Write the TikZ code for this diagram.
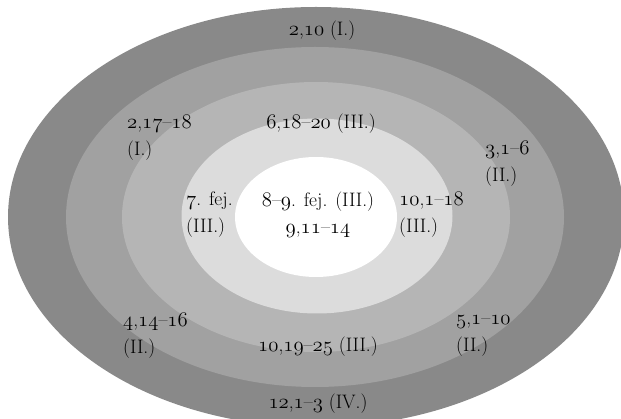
\documentclass[tikz,border=0pt]{standalone}
\newcommand\on[1]{{\fontsize{21.5}{27}\usefont{OML}{lmm}{m}{it}#1}}
\definecolor{ringA}{HTML}{898989}
\definecolor{ringB}{HTML}{A1A1A1}
\definecolor{ringC}{HTML}{B5B5B5}
\definecolor{ringD}{HTML}{DCDCDC}
\tikzset{
  lbl/.style={inner sep=0pt, font=\fontsize{19.5}{27}\selectfont, align=left},
  lblc/.style={inner sep=0pt, font=\fontsize{19.5}{27}\selectfont, align=center}
}
\begin{document}
\begin{tikzpicture}[x=1pt,y=-1pt]
\useasboundingbox (0,0) rectangle (621,419);
\begin{scope}
\clip (0,0) rectangle (621,419);
\fill[ringA] (316,217) ellipse [x radius=308, y radius=210];
\fill[ringB] (315,217) ellipse [x radius=249, y radius=170];
\fill[ringC] (316,217) ellipse [x radius=194, y radius=135];
\fill[ringD] (317,216) ellipse [x radius=135.5, y radius=97.5];
\fill[white] (316,217) ellipse [x radius=81, y radius=60];
\end{scope}
\node[lblc] (t1) at (322,31) {\on{2},\on{10} (I.)};
\node[lbl, anchor=west] (t2) at (127,138) {\on{2},\on{17}\textendash\on{18}\\(I.)};
\node[lblc] (t3) at (321,124) {\on{6},\on{18}\textendash\on{20} (III.)};
\node[lbl, anchor=west] (t4) at (485,164) {\on{3},\on{1}\textendash\on{6}\\(II.)};
\node[lbl, anchor=west] (t5) at (186,215) {\on{7}. fej.\\(III.)};
\node[lblc] (t6) at (318,215) {\on{8}\textendash\on{9}. fej. (III.)\\\on{9},\on{11}\textendash\on{14}};
\node[lbl, anchor=west] (t7) at (399,215) {\on{10},\on{1}\textendash\on{18}\\(III.)};
\node[lbl, anchor=west] (t8) at (123,336) {\on{4},\on{14}\textendash\on{16}\\(II.)};
\node[lblc] (t9) at (318,347) {\on{10},\on{19}\textendash\on{25} (III.)};
\node[lbl, anchor=west] (t10) at (456,336) {\on{5},\on{1}\textendash\on{10}\\(II.)};
\node[lblc] (t11) at (318,404) {\on{12},\on{1}\textendash\on{3} (IV.)};
\end{tikzpicture}
\end{document}
